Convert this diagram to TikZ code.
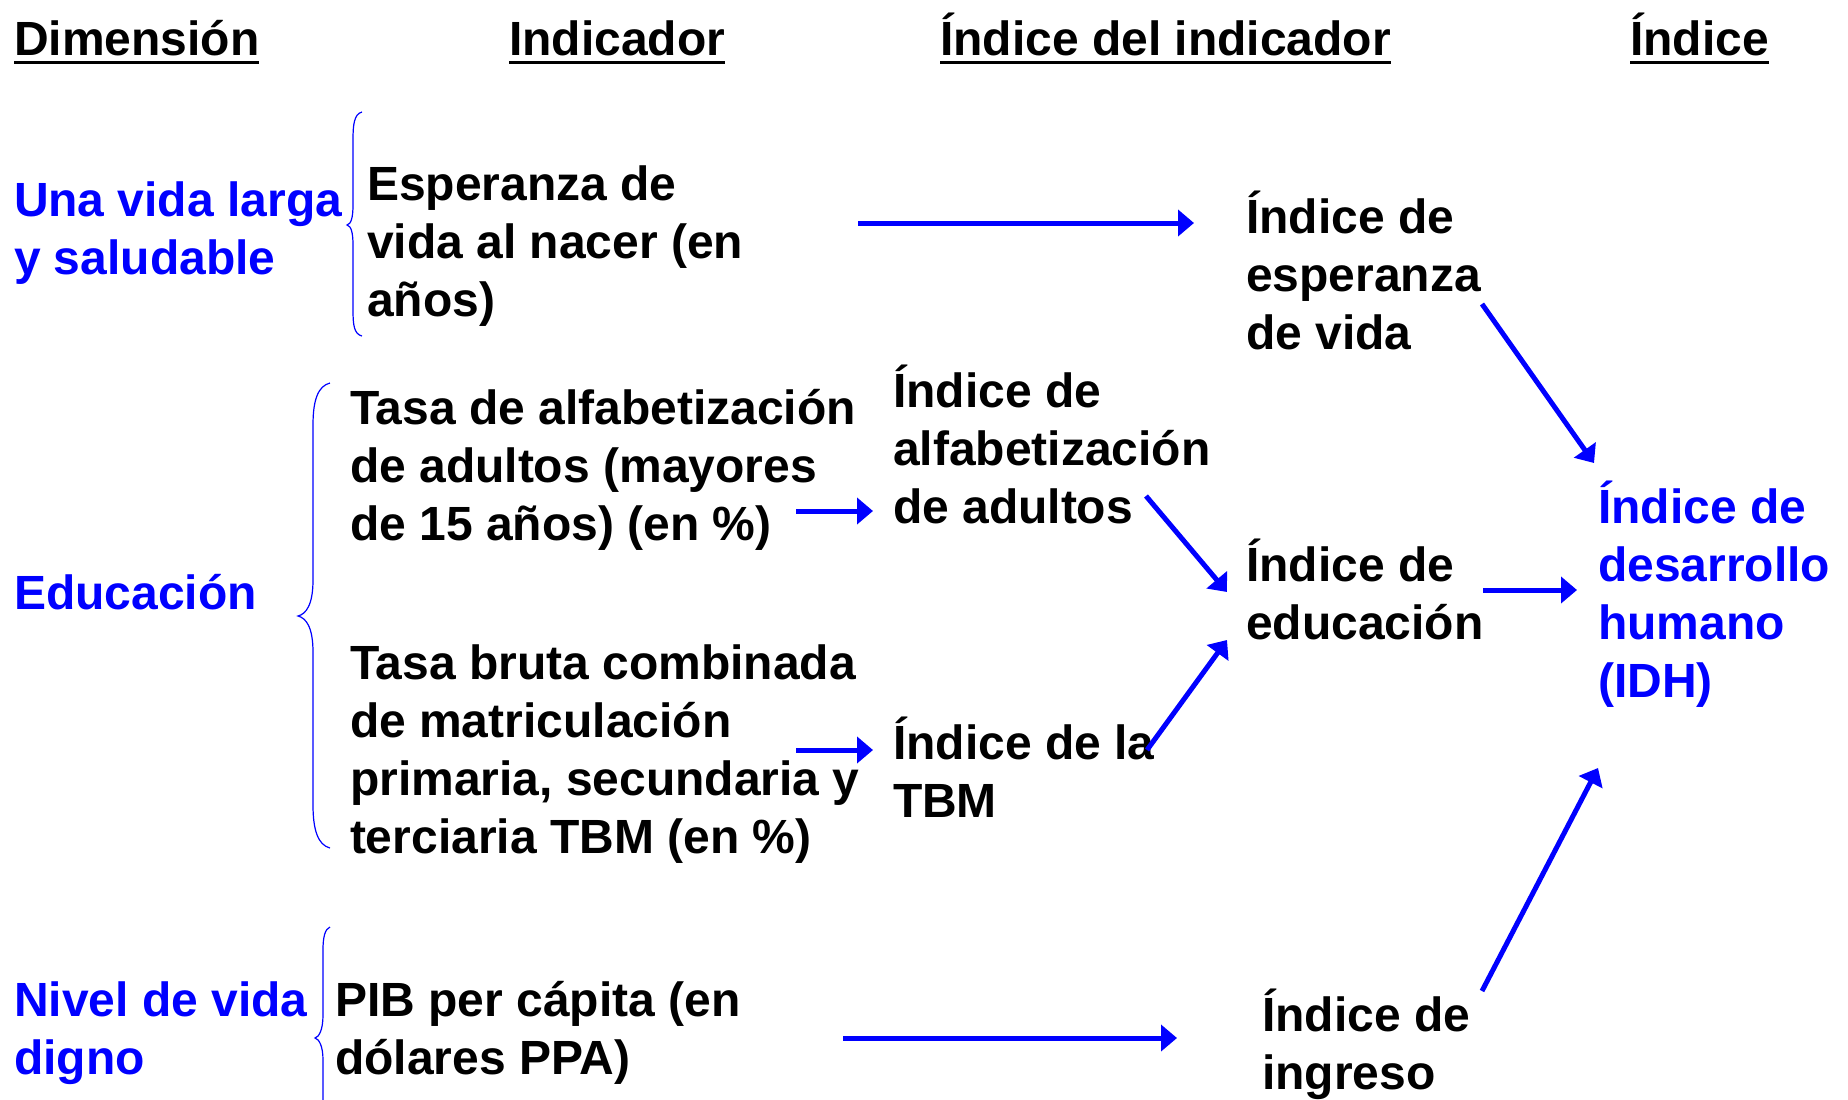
\documentclass[tikz,border=0pt]{standalone}
\usepackage{fontspec}
\setmainfont{Liberation Sans}
\usetikzlibrary{arrows.meta}
\newcommand\hdr[1]{\setbox0\hbox{#1}\rlap{\rule[-4.5pt]{\wd0}{1.5pt}}\box0}
\begin{document}
\begin{tikzpicture}[x=0.5pt,y=-0.5pt,
 txt/.style={anchor=base west, align=left, inner sep=0pt, outer sep=0pt, font=\fontsize{24}{29}\selectfont\bfseries},
 bluetxt/.style={txt, text=blue},
 arr/.style={blue, line width=2.5pt, -{Triangle[length=8pt,width=13pt]}},
 bracestyle/.style={blue, line width=0.6pt}]
\useasboundingbox (0,0) rectangle (1848,1099);
\clip (0,0) rectangle (1848,1099);

% headers
\node[txt] (h1) at (14,55) {\hdr{Dimensión}};
\node[txt] (h2) at (509,55) {\hdr{Indicador}};
\node[txt] (h3) at (940,55) {\hdr{Índice del indicador}};
\node[txt] (h4) at (1630,55) {\hdr{Índice}};

% dimensions (anchor = baseline of last line)
\node[bluetxt] (d1) at (14,274) {Una vida larga\\y saludable};
\node[bluetxt] (d2) at (14,609) {Educación};
\node[bluetxt] (d3) at (14,1074) {Nivel de vida\\digno};

% indicators
\node[txt] (i1) at (367,316) {Esperanza de\\vida al nacer (en\\años)};
\node[txt] (i2) at (350,540) {Tasa de alfabetización\\de adultos (mayores\\de 15 años) (en \%)};
\node[txt] (i3) at (350,853) {Tasa bruta combinada\\de matriculación\\primaria, secundaria y\\terciaria TBM (en \%)};
\node[txt] (i4) at (335,1074) {PIB per cápita (en\\dólares PPA)};

% indicator indices
\node[txt] (x1) at (893,523) {Índice de\\alfabetización\\de adultos};
\node[txt] (x2) at (893,817) {Índice de la\\TBM};

\node[txt] (e1) at (1246,349) {Índice de\\esperanza\\de vida};
\node[txt] (e2) at (1246,639) {Índice de\\educación};
\node[txt] (e3) at (1262,1089) {Índice de\\ingreso};

\node[bluetxt] (idh) at (1598,697) {Índice de\\desarrollo\\humano\\(IDH)};

% arrow end points
\coordinate (a1s) at (858,223);  \coordinate (a1e) at (1194,223);
\coordinate (a2s) at (796,511);  \coordinate (a2e) at (873,511);
\coordinate (a3s) at (796,750);  \coordinate (a3e) at (873,750);
\coordinate (a4s) at (843,1038); \coordinate (a4e) at (1177,1038);
\coordinate (a5s) at (1146,496); \coordinate (a5e) at (1227,592);
\coordinate (a6s) at (1147,750); \coordinate (a6e) at (1227,640);
\coordinate (a7s) at (1482,304); \coordinate (a7e) at (1594,463);
\coordinate (a8s) at (1482,991); \coordinate (a8e) at (1598,768);
\coordinate (a9s) at (1483,590); \coordinate (a9e) at (1577,590);

\draw[arr] (a1s) -- (a1e);
\draw[arr] (a2s) -- (a2e);
\draw[arr] (a3s) -- (a3e);
\draw[arr] (a4s) -- (a4e);
\draw[arr] (a5s) -- (a5e);
\draw[arr] (a6s) -- (a6e);
\draw[arr] (a7s) -- (a7e);
\draw[arr] (a8s) -- (a8e);
\draw[arr] (a9s) -- (a9e);

% braces
\draw[bracestyle] (362,112) .. controls (354,114) and (353,125) .. (353,140) -- (353,205)
  .. controls (353,218) and (351,224) .. (347,225)
  .. controls (351,226) and (353,232) .. (353,245) -- (353,310)
  .. controls (353,325) and (354,334) .. (362,336);
\draw[bracestyle] (330,383) .. controls (318,386) and (313,400) .. (313,425) -- (313,580)
  .. controls (313,605) and (306,614) .. (298,616)
  .. controls (306,618) and (313,627) .. (313,652) -- (313,805)
  .. controls (313,830) and (318,845) .. (330,848);
\draw[bracestyle] (330,927) .. controls (325,929) and (323,937) .. (323,950) -- (323,1015)
  .. controls (323,1030) and (319,1037) .. (315,1038)
  .. controls (319,1039) and (323,1046) .. (323,1060) -- (323,1110);
\end{tikzpicture}
\end{document}
